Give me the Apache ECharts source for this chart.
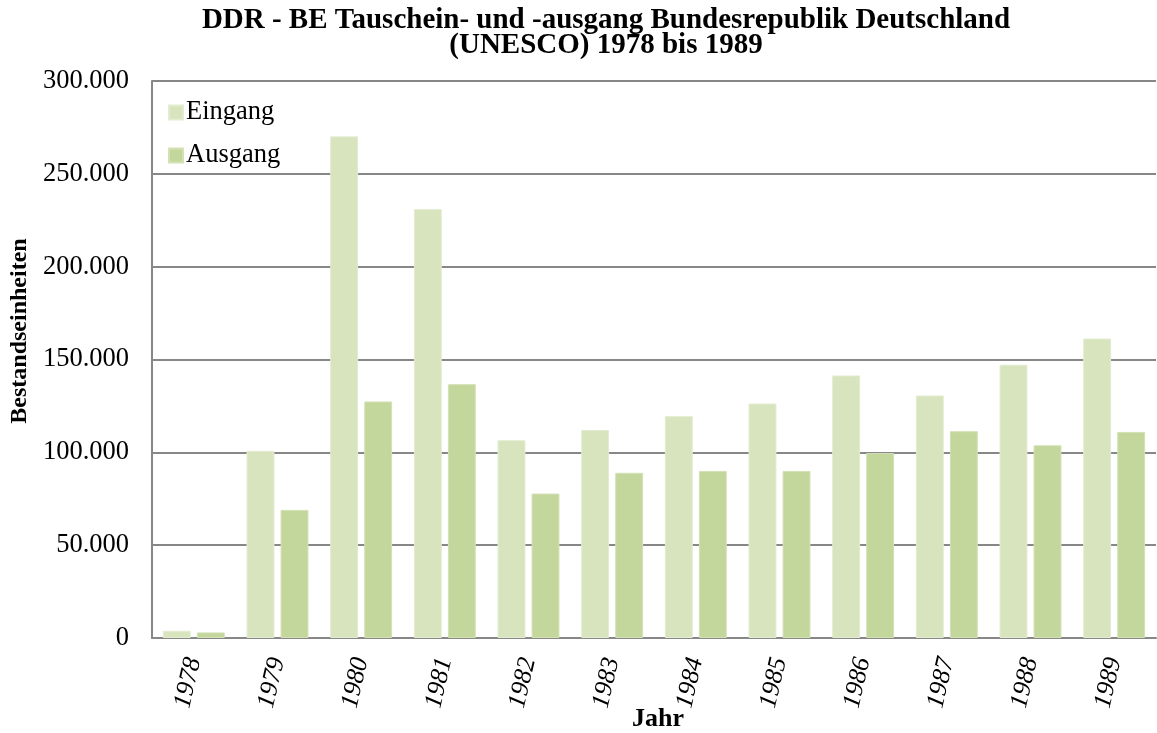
<!DOCTYPE html>
<html>
<head>
<meta charset="utf-8">
<script src="https://cdn.jsdelivr.net/npm/echarts@6/dist/echarts.min.js"></script>
<style>
html,body{margin:0;padding:0;background:#fff;}
#chart{width:1157px;height:733px;}
</style>
</head>
<body>
<div id="chart"></div>
<script>
var years = ['1978','1979','1980','1981','1982','1983','1984','1985','1986','1987','1988','1989'];
var eingang = [3900, 100800, 270200, 231000, 106500, 112000, 119500, 126300, 141400, 130600, 147200, 161300];
var ausgang = [3000, 69000, 127400, 136700, 77800, 89000, 90000, 90000, 99600, 111400, 103800, 111000];
var titleText = 'DDR - BE Tauschein- und -ausgang Bundesrepublik Deutschland\n(UNESCO) 1978 bis 1989';
var yName = 'Bestandseinheiten';
var xName = 'Jahr';

var serif = '"Liberation Serif", "Times New Roman", serif';
var gridColor = '#878787';
function fmt(v){
  if (v === 0) return '0';
  var s = String(Math.round(v));
  return s.replace(/\B(?=(\d{3})+(?!\d))/g, '.');
}
var chart = echarts.init(document.getElementById('chart'), null, {renderer:'canvas'});
chart.setOption({
  animation: false,
  backgroundColor: '#ffffff',
  title: {
    text: titleText,
    left: 601,
    textAlign: 'center',
    top: 3,
    textStyle: {fontFamily: serif, fontWeight: 'bold', fontSize: 29, lineHeight: 25, color: '#000'}
  },
  legend: {
    orient: 'vertical',
    left: 163,
    top: 94,
    icon: 'rect',
    itemWidth: 14,
    itemHeight: 14,
    itemGap: 16,
    textStyle: {fontFamily: serif, fontSize: 26.5, color: '#000', lineHeight: 27, padding: [0,0,0,-2]},
    data: ['Eingang', 'Ausgang']
  },
  grid: {left: 152, right: 1, top: 81, bottom: 95, containLabel: false, outerBoundsMode: 'none'},
  xAxis: {
    type: 'category',
    data: years,
    name: xName,
    nameLocation: 'middle',
    nameGap: 68,
    nameMoveOverlap: false,
    nameTextStyle: {fontFamily: serif, fontWeight: 'bold', fontSize: 26, color: '#000', padding: [0,0,0,8]},
    axisLine: {lineStyle: {color: gridColor, width: 2}},
    axisTick: {show: false},
    axisLabel: {rotate: 77, margin: 20, fontFamily: serif, fontStyle: 'italic', fontSize: 25.5, color: '#000', interval: 0}
  },
  yAxis: {
    type: 'value',
    min: 0,
    max: 300000,
    interval: 50000,
    axisLine: {show: true, lineStyle: {color: gridColor, width: 2}},
    axisTick: {show: false},
    splitLine: {lineStyle: {color: gridColor, width: 2}},
    axisLabel: {margin: 23, fontFamily: serif, fontSize: 26.5, color: '#000', formatter: fmt}
  },
  graphic: [{
    type: 'text',
    x: 20,
    y: 331,
    rotation: Math.PI / 2,
    style: {
      text: yName,
      fontFamily: serif,
      fontWeight: 'bold',
      fontSize: 24,
      fill: '#000',
      align: 'center',
      verticalAlign: 'middle'
    }
  }],
  series: [
    {
      name: 'Eingang', type: 'bar', data: eingang,
      barCategoryGap: '26%', barGap: '22%',
      itemStyle: {color: '#d7e4bd', borderColor: '#e3ecd1', borderWidth: 1}
    },
    {
      name: 'Ausgang', type: 'bar', data: ausgang,
      barCategoryGap: '26%', barGap: '22%',
      itemStyle: {color: '#c3d69b', borderColor: '#d3e1b4', borderWidth: 1}
    }
  ]
});
</script>
</body>
</html>
